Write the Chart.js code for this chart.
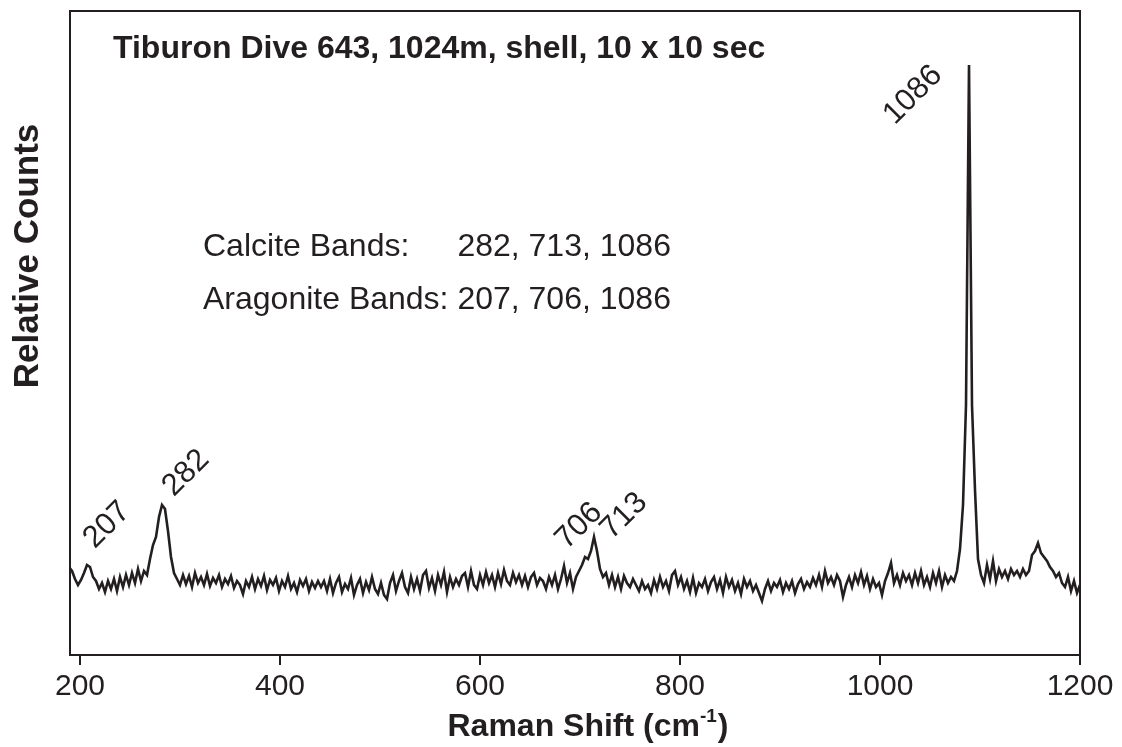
<!DOCTYPE html>
<html>
<head>
<meta charset="utf-8">
<script src="https://cdn.jsdelivr.net/npm/chart.js@4.4.1/dist/chart.umd.min.js"></script>
<style>
  html, body { margin: 0; padding: 0; background: #ffffff; }
  #c { display: block; }
</style>
</head>
<body>
<canvas id="c" width="1122" height="747"></canvas>
<script>
// ---------- data ----------
const shiftStart = 189;   // cm-1, first sample
const shiftStep = 3;      // cm-1 between samples
const counts = [
  88, 84, 76, 70, 75, 82, 90, 88, 78, 74, 66,
  72, 63, 74, 66, 76, 64, 78, 68, 80, 70, 82, 72, 86, 74, 84, 80,
  96, 110, 118, 138, 150, 146, 124, 98, 82, 76,
  70, 80, 71, 79, 68, 82, 72, 78, 70, 81, 69, 77, 72, 80, 68, 76, 71, 79, 67, 74, 70,
  61, 74, 68, 78, 66, 76, 69, 79, 65, 75, 70, 77, 64, 74, 68, 79, 66, 72, 63, 75, 69, 76, 64, 73, 67, 74, 68,
  74, 64, 76, 62, 72, 78, 63, 71, 66, 77, 60, 70, 76, 62, 73, 65, 78, 66, 61, 72, 60, 56, 72, 80, 64, 74, 82,
  68, 62, 78, 66, 76, 64, 80, 84, 67, 77, 64, 80, 70, 83, 63, 78, 68, 76, 70, 79, 82, 68, 84, 70, 66, 80,
  70, 83, 72, 80, 68, 82, 71, 85, 74, 70, 82, 73, 80, 70, 79, 68, 78, 82, 70, 77, 74, 66, 78, 70, 80, 66, 76, 89, 72, 82, 66, 78, 84,
  90, 98, 96, 104, 118, 104, 86, 78,
  82, 70, 80, 68, 78, 66, 79, 72, 68, 76, 70, 64, 74, 66, 70, 62, 75, 66, 78, 68, 74, 64, 80, 84, 70, 78,
  66, 74, 63, 77, 62, 72, 68, 76, 64, 73, 78, 66, 75, 62, 78, 68, 75, 64, 72, 61, 76, 68, 74, 64, 70, 62,
  54,
  66, 74, 64, 72, 68, 75, 63, 72, 66, 74, 62, 71, 76, 66, 73, 68, 77, 70, 80, 68, 84, 72, 78, 70, 80, 74,
  58,
  70, 78, 68, 80, 72, 83, 70, 79, 66, 76, 68,
  72, 60, 74, 82, 92, 72, 80, 70, 82, 74, 80, 70, 82, 72, 84, 70, 78, 68, 82, 72, 84, 68, 80, 72, 78, 74,
  84, 106, 150, 250, 590, 250, 165, 96, 80,
  72, 90, 76, 94, 74, 86, 78, 84, 76, 86, 80, 84, 78, 86, 80, 84,
  100, 104, 112, 102, 98, 94, 88, 84, 78,
  82, 72, 68, 78, 64, 74, 62, 70
];
const tickLabels = [200, 400, 600, 800, 1000, 1200];
const peakLabels = ['207', '282', '706', '713', '1086'];
const peakLabelAnchors = [[227, 130], [306, 182], [699, 129], [744, 139], [1033, 560]]; // [shift, counts] of label centre
const titleText = 'Tiburon Dive 643, 1024m, shell, 10 x 10 sec';
const bandNames = ['Calcite Bands:', 'Aragonite Bands:'];
const bandValues = ['282, 713, 1086', '207, 706, 1086'];
const xTitle = ['Raman Shift (cm', '-1', ')'];
const yTitle = 'Relative Counts';

// ---------- chart ----------
const INK = '#231f20';
const FONT = '"Liberation Sans", Arial, Helvetica, sans-serif';
const points = counts.map((v, i) => ({ x: shiftStart + i * shiftStep, y: v }));

const decor = {
  id: 'decor',
  afterDraw(chart) {
    const ctx = chart.ctx;
    const a = chart.chartArea;
    const xs = chart.scales.x, ys = chart.scales.y;
    ctx.save();
    // frame
    ctx.strokeStyle = INK;
    ctx.lineWidth = 2;
    ctx.strokeRect(a.left, a.top, a.right - a.left, a.bottom - a.top);
    ctx.fillStyle = INK;
    // title
    ctx.font = 'bold 32px ' + FONT;
    ctx.textAlign = 'left';
    ctx.textBaseline = 'alphabetic';
    ctx.fillText(titleText, 113, 58);
    // band text
    ctx.font = '32px ' + FONT;
    const numX = 203 + ctx.measureText(bandNames[1] + ' ').width;
    ctx.fillText(bandNames[0], 203, 256);
    ctx.fillText(bandValues[0], numX, 256);
    ctx.fillText(bandNames[1], 203, 309);
    ctx.fillText(bandValues[1], numX, 309);
    // peak labels
    ctx.font = '31px ' + FONT;
    ctx.textAlign = 'center';
    ctx.textBaseline = 'middle';
    peakLabels.forEach((t, i) => {
      const px = xs.getPixelForValue(peakLabelAnchors[i][0]);
      const py = ys.getPixelForValue(peakLabelAnchors[i][1]);
      ctx.save();
      ctx.translate(px, py);
      ctx.rotate(-Math.PI / 4);
      ctx.fillText(t, 0, 0);
      ctx.restore();
    });
    // x title with superscript
    ctx.textAlign = 'left';
    ctx.textBaseline = 'alphabetic';
    ctx.font = 'bold 32px ' + FONT;
    const w0 = ctx.measureText(xTitle[0]).width;
    ctx.font = 'bold 19px ' + FONT;
    const w1 = ctx.measureText(xTitle[1]).width;
    ctx.font = 'bold 32px ' + FONT;
    const w2 = ctx.measureText(xTitle[2]).width;
    const total = w0 + w1 + w2 + 1;
    const x0 = 588 - total / 2;
    const base = 736;
    ctx.fillText(xTitle[0], x0, base);
    ctx.font = 'bold 19px ' + FONT;
    ctx.fillText(xTitle[1], x0 + w0, base - 14);
    ctx.font = 'bold 32px ' + FONT;
    ctx.fillText(xTitle[2], x0 + w0 + w1 + 1, base);
    // y title
    ctx.save();
    ctx.translate(28, 256);
    ctx.rotate(-Math.PI / 2);
    ctx.textAlign = 'center';
    ctx.textBaseline = 'middle';
    ctx.font = 'bold 35px ' + FONT;
    ctx.fillText(yTitle, 0, 0);
    ctx.restore();
    ctx.restore();
  }
};

new Chart(document.getElementById('c'), {
  type: 'line',
  data: {
    datasets: [{
      data: points,
      borderColor: INK,
      borderWidth: 2.6,
      pointRadius: 0,
      tension: 0,
      fill: false
    }]
  },
  options: {
    responsive: false,
    animation: false,
    devicePixelRatio: 1,
    layout: { padding: { top: 11, right: 42, left: 0, bottom: 0 } },
    plugins: { legend: { display: false }, tooltip: { enabled: false }, title: { display: false } },
    scales: {
      x: {
        type: 'linear',
        min: 190,
        max: 1200,
        afterFit: s => { s.height = 92; },
        afterBuildTicks: s => { s.ticks = tickLabels.map(v => ({ value: v })); },
        grid: { drawOnChartArea: false, drawTicks: true, tickLength: 10, color: INK, lineWidth: 2 },
        border: { display: true, color: INK, width: 2 },
        ticks: {
          color: INK, font: { size: 30, family: FONT }, padding: 4, maxRotation: 0, autoSkip: false,
          callback: v => String(v)
        }
      },
      y: {
        type: 'linear',
        min: 0,
        max: 644,
        afterFit: s => { s.width = 70; },
        grid: { display: false },
        border: { display: false },
        ticks: { display: false }
      }
    }
  },
  plugins: [decor]
});
</script>
</body>
</html>
